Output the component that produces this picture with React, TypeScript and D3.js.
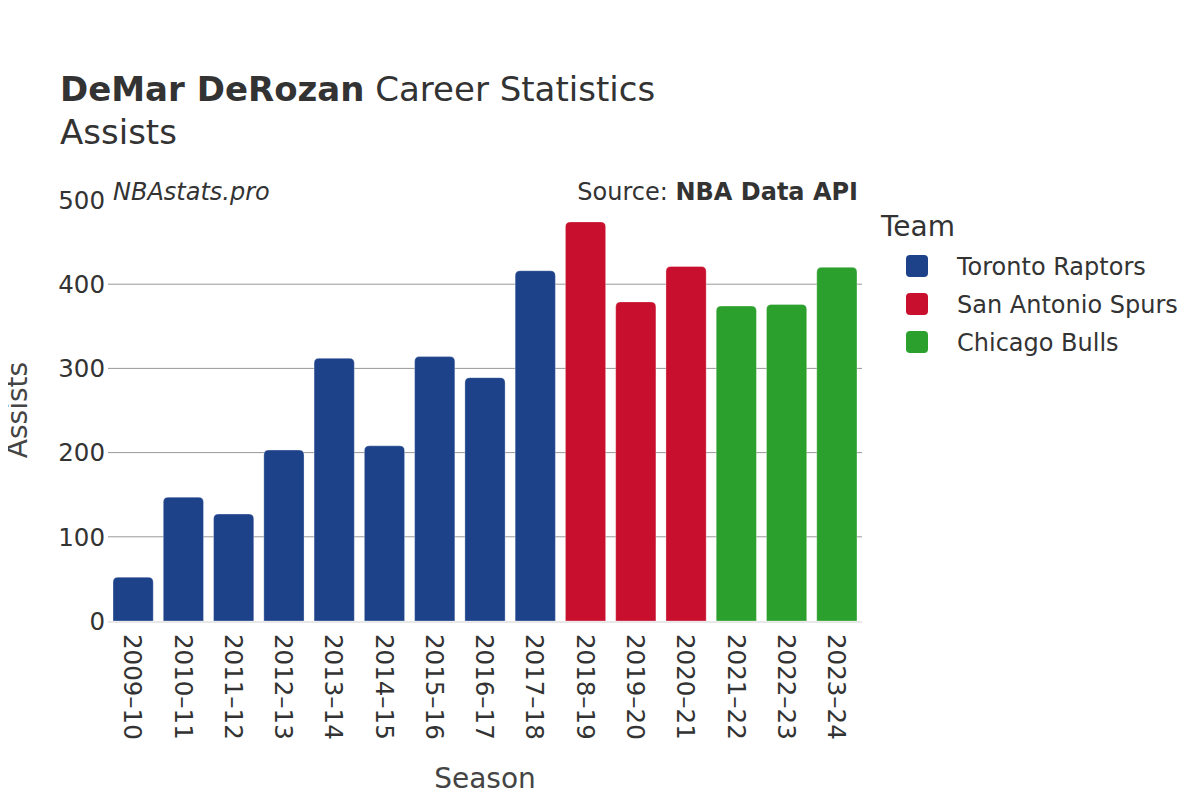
import { useEffect, useRef } from "react";
import * as d3 from "d3";

const seasons = [
  "2009–10", "2010–11", "2011–12", "2012–13", "2013–14", "2014–15", "2015–16",
  "2016–17", "2017–18", "2018–19", "2019–20", "2020–21", "2021–22", "2022–23", "2023–24",
];
const assists = [52, 147, 127, 203, 312, 208, 314, 289, 416, 474, 379, 421, 374, 376, 420];
const seasonTeams = [
  "Toronto Raptors", "Toronto Raptors", "Toronto Raptors", "Toronto Raptors", "Toronto Raptors",
  "Toronto Raptors", "Toronto Raptors", "Toronto Raptors", "Toronto Raptors",
  "San Antonio Spurs", "San Antonio Spurs", "San Antonio Spurs",
  "Chicago Bulls", "Chicago Bulls", "Chicago Bulls",
];
const teams = ["Toronto Raptors", "San Antonio Spurs", "Chicago Bulls"];
const teamColors = ["#1d428a", "#c8102e", "#2ca02c"];
const yTicks = [0, 100, 200, 300, 400, 500];

const FONT = "'DejaVu Sans', sans-serif";

export default function App() {
  const svgRef = useRef<SVGSVGElement>(null);

  useEffect(() => {
    const width = 1200;
    const height = 800;
    const left = 108;
    const right = 862;
    const top = 200;
    const bottom = 621;

    const svg = d3.select(svgRef.current);
    svg.selectAll("*").remove();
    svg.attr("width", width).attr("height", height).style("font-family", FONT);

    svg.append("rect").attr("width", width).attr("height", height).attr("fill", "#fff");

    const x = d3.scaleBand().domain(seasons).range([left, right]).paddingInner(0.2).paddingOuter(0.1);
    const y = d3.scaleLinear().domain([0, 500]).range([bottom, top]);
    const color = d3.scaleOrdinal<string, string>().domain(teams).range(teamColors);

    // grid lines
    svg
      .append("g")
      .selectAll("line")
      .data(yTicks.filter((t) => t > 0 && t < 500))
      .enter()
      .append("line")
      .attr("x1", left)
      .attr("x2", right)
      .attr("y1", (d) => y(d))
      .attr("y2", (d) => y(d))
      .attr("stroke", "#999")
      .attr("stroke-width", 1);

    // y tick labels
    svg
      .append("g")
      .selectAll("text")
      .data(yTicks)
      .enter()
      .append("text")
      .attr("x", 105)
      .attr("y", (d) => y(d))
      .attr("dy", "0.36em")
      .attr("text-anchor", "end")
      .style("font-size", "24.5px")
      .style("fill", "#333")
      .text((d) => d);

    // zero line
    svg
      .append("line")
      .attr("x1", left)
      .attr("x2", right)
      .attr("y1", y(0) + 1)
      .attr("y2", y(0) + 1)
      .attr("stroke", "#e8e8e8")
      .attr("stroke-width", 2);

    // bars with rounded tops
    const r = 5;
    const data = seasons.map((s, i) => ({ season: s, value: assists[i], team: seasonTeams[i] }));
    svg
      .append("g")
      .selectAll("path")
      .data(data)
      .enter()
      .append("path")
      .attr("d", (d) => {
        const x0 = x(d.season)!;
        const w = x.bandwidth();
        const y0 = y(d.value);
        const y1 = y(0);
        return `M${x0},${y1}V${y0 + r}Q${x0},${y0} ${x0 + r},${y0}H${x0 + w - r}Q${x0 + w},${y0} ${x0 + w},${y0 + r}V${y1}Z`;
      })
      .attr("fill", (d) => color(d.team))
      .attr("stroke", "#fff")
      .attr("stroke-opacity", 0.3)
      .attr("stroke-width", 1);

    // x tick labels
    svg
      .append("g")
      .selectAll("text")
      .data(seasons)
      .enter()
      .append("text")
      .attr("transform", (d) => `translate(${x(d)! + x.bandwidth() / 2},634) rotate(90)`)
      .attr("dy", "0.36em")
      .attr("text-anchor", "start")
      .style("font-size", "24.5px")
      .style("fill", "#333")
      .text((d) => d);

    // axis titles
    svg
      .append("text")
      .attr("x", 485)
      .attr("y", 788)
      .attr("text-anchor", "middle")
      .style("font-size", "28px")
      .style("fill", "#444")
      .text("Season");

    svg
      .append("text")
      .attr("transform", "translate(27,410) rotate(-90)")
      .attr("text-anchor", "middle")
      .style("font-size", "28px")
      .style("fill", "#444")
      .text("Assists");

    // titles
    const title = svg
      .append("text")
      .attr("x", 60)
      .attr("y", 101)
      .style("font-size", "34px")
      .style("fill", "#333");
    title.append("tspan").style("font-weight", "bold").text("DeMar DeRozan");
    title.append("tspan").text(" Career Statistics");

    svg
      .append("text")
      .attr("x", 60)
      .attr("y", 144)
      .style("font-size", "34px")
      .style("fill", "#333")
      .text("Assists");

    svg
      .append("text")
      .attr("x", 113)
      .attr("y", 200)
      .style("font-size", "24px")
      .style("font-style", "italic")
      .style("fill", "#333")
      .text("NBAstats.pro");

    const src = svg
      .append("text")
      .attr("x", 858)
      .attr("y", 200)
      .attr("text-anchor", "end")
      .style("font-size", "24px")
      .style("fill", "#333");
    src.append("tspan").text("Source: ");
    src.append("tspan").style("font-weight", "bold").text("NBA Data API");

    // legend
    svg
      .append("text")
      .attr("x", 881)
      .attr("y", 236)
      .style("font-size", "28px")
      .style("fill", "#333")
      .text("Team");

    const items = svg
      .append("g")
      .selectAll("g")
      .data(teams)
      .enter()
      .append("g")
      .attr("transform", (_d, i) => `translate(906,${266 + i * 38})`);
    items
      .append("rect")
      .attr("x", 0)
      .attr("y", -11)
      .attr("width", 22)
      .attr("height", 22)
      .attr("rx", 4)
      .attr("fill", (d) => color(d));
    items
      .append("text")
      .attr("x", 51)
      .attr("dy", "0.36em")
      .style("font-size", "24px")
      .style("fill", "#333")
      .text((d) => d);
  }, []);

  return <svg ref={svgRef} style={{ display: "block", margin: "-8px" }} />;
}
